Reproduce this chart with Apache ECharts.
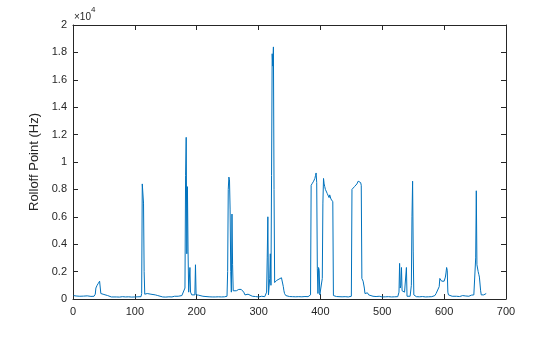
<!DOCTYPE html>
<html>
<head>
<meta charset="utf-8">
<script src="https://cdn.jsdelivr.net/npm/echarts@6/dist/echarts.min.js"></script>
<style>html,body{margin:0;padding:0;background:#fff}#c{width:560px;height:337px}</style>
</head>
<body>
<div id="c"></div>
<script>
// frame index (x) and rolloff point in Hz (y)
const frames = [1,3,5,8,11,14,17,20,23,26,29,32,34,36,37,39,41,43,44,45,47,50,53,56,59,62,65,70,75,80,85,90,95,100,105,110,
111,112,113,114,115,116,118,120,123,126,129,133,137,140,145,150,155,160,164,167,170,173,176,179,181,
182,183,184,185,186,187,188,189,190,191,192,195,197,198,199,200,203,206,210,215,220,225,230,235,240,245,249,
250,251,252,253,254,255,256,257,258,259,260,262,264,266,268,270,272,274,276,278,280,283,286,290,295,300,305,310,312,
313,314,315,316,317,318,319,320,321,322,323,324,325,326,327,329,331,333,335,337,339,340,341,342,344,346,350,355,360,365,370,375,380,384,
385,386,387,388,389,390,391,392,393,394,395,396,397,398,399,400,401,402,403,404,405,406,407,408,409,410,411,412,413,414,415,416,417,418,419,420,421,
423,426,430,435,440,445,450,451,452,453,455,457,459,461,462,463,465,466,467,468,469,470,471,472,474,476,478,480,485,490,495,500,
505,510,515,520,525,527,528,529,530,531,532,534,536,538,539,540,542,545,547,548,549,550,551,555,560,565,570,575,580,585,
587,588,590,592,593,594,596,598,600,602,603,604,605,606,607,610,613,616,620,625,630,635,640,644,646,648,650,651,652,653,654,655,656,657,658,659,660,662,664,666,668];
const rolloff = [250,180,220,160,200,150,210,170,230,160,190,240,200,350,800,1000,1150,1300,1250,400,350,330,300,250,200,150,130,150,140,170,150,160,140,150,160,170,
400,8400,8500,7000,2000,350,380,400,370,350,330,300,250,200,150,140,160,150,200,250,200,160,250,180,800,
9000,11800,3300,8200,3500,500,600,2300,500,400,300,250,300,2500,300,250,280,220,200,180,160,150,150,160,150,160,200,
2000,8000,8900,8700,6500,2000,500,6200,2500,600,550,600,600,650,700,800,700,600,500,300,200,350,250,200,180,150,200,170,250,
500,3000,6000,300,200,1500,3300,1000,9000,17900,17000,18400,8000,1200,1300,1350,1400,1450,1500,1550,1600,900,600,400,250,200,180,170,160,170,160,180,170,300,
8300,8200,8450,8500,8600,8700,8800,9000,9200,8500,2200,400,2300,2100,300,400,300,200,1500,7000,8800,8400,8200,8000,7900,8100,7700,7600,7700,7400,7600,7500,7300,7400,7200,7100,250,
200,180,170,160,170,150,200,8000,8050,8100,8200,8200,8400,8600,8700,8600,8500,8300,1500,1600,1300,1200,800,400,300,450,300,250,200,180,200,150,
160,170,150,160,170,500,2600,800,1000,2300,600,500,500,450,2300,200,170,200,1000,6000,8600,3500,300,170,160,180,150,160,170,250,
400,500,450,900,1500,1400,1300,1200,1300,1600,1900,2300,2100,500,300,250,200,170,200,180,250,220,200,280,400,300,300,3000,7900,2500,2400,2000,1800,1600,1500,600,300,250,300,200,400];
const xTicks = [0,100,200,300,400,500,600,700];
const yTicks = [0,0.2,0.4,0.6,0.8,1,1.2,1.4,1.6,1.8,2];

const pts = frames.map((f,i)=>[f, rolloff[i]]);
const axisCol = '#262626';
const font = 'Liberation Sans, Arial, sans-serif';
const chart = echarts.init(document.getElementById('c'), null, {renderer:'canvas'});
const baseX = {type:'value', min:0, max:700, interval:100, splitLine:{show:false},
  axisLine:{show:true,onZero:false,lineStyle:{color:axisCol,width:1}}, axisTick:{show:true,inside:true,length:5,lineStyle:{color:axisCol}}};
const baseY = {type:'value', min:0, max:20000, interval:2000, splitLine:{show:false},
  axisLine:{show:true,onZero:false,lineStyle:{color:axisCol,width:1}}, axisTick:{show:true,inside:true,length:5,lineStyle:{color:axisCol}}};
chart.setOption({
  animation:false,
  backgroundColor:'#fff',
  grid:{left:73,right:54,top:25,bottom:38,containLabel:false},
  xAxis:[
    Object.assign({}, baseX, {position:'bottom', axisLabel:{color:axisCol,fontSize:11,fontFamily:font,margin:7,
      formatter:v=>xTicks.includes(v)?String(v):''}}),
    Object.assign({}, baseX, {position:'top', axisLabel:{show:false}})
  ],
  yAxis:[
    Object.assign({}, baseY, {position:'left', name:'Rolloff Point (Hz)', nameLocation:'middle', nameGap:28,
      nameTextStyle:{color:axisCol,fontSize:13,fontFamily:font},
      axisLabel:{color:axisCol,fontSize:11,fontFamily:font,margin:6,
      formatter:v=>{const t=parseFloat((v/1e4).toFixed(1));return yTicks.includes(t)?String(t):'';}}}),
    Object.assign({}, baseY, {position:'right', axisLabel:{show:false}})
  ],
  graphic:[{type:'text', left:74, top:6, style:{
    text:'{a|×10}{b|4}', fill:axisCol, font:'10px '+font,
    rich:{a:{fontSize:10,fontFamily:font,fill:axisCol,padding:[6,0,0,0]},b:{fontSize:8,fontFamily:font,fill:axisCol,verticalAlign:'top'}}}}],
  series:[{type:'line', xAxisIndex:0, yAxisIndex:0, data:pts, showSymbol:false, symbol:'none',
    lineStyle:{color:'#0072BD',width:1}, itemStyle:{color:'#0072BD'}}]
});
</script>
</body>
</html>
